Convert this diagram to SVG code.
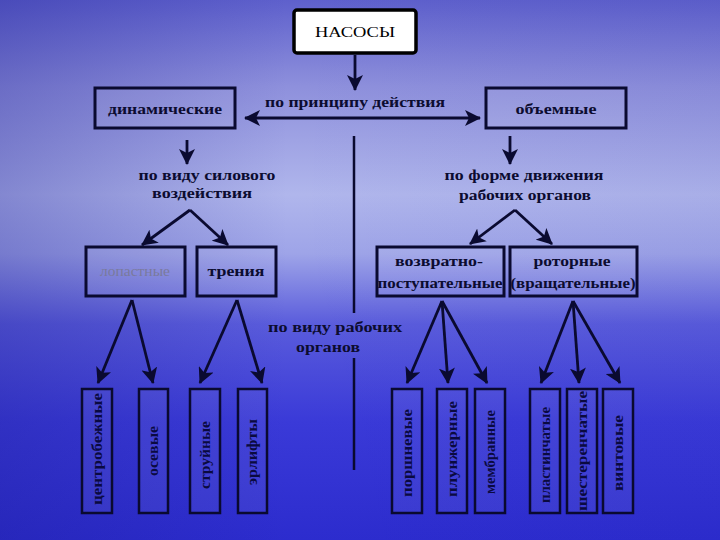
<svg xmlns="http://www.w3.org/2000/svg" width="720" height="540" viewBox="0 0 720 540">
<defs>
<linearGradient id="sky" x1="0" y1="0" x2="0" y2="1">
<stop offset="0" stop-color="#5e60cc"/>
<stop offset="0.16" stop-color="#8e90dc"/>
<stop offset="0.36" stop-color="#b0b6ec"/>
<stop offset="0.47" stop-color="#9ea4e8"/>
<stop offset="0.6" stop-color="#5a5cdc"/>
<stop offset="0.78" stop-color="#3a3ad8"/>
<stop offset="1" stop-color="#2c2cce"/>
</linearGradient>
<linearGradient id="side" x1="0" y1="0" x2="1" y2="0">
<stop offset="0" stop-color="#1a1a90" stop-opacity="0.3"/>
<stop offset="0.4" stop-color="#1a1a90" stop-opacity="0"/>
<stop offset="1" stop-color="#1a1a90" stop-opacity="0.05"/>
</linearGradient>
<marker id="ah" viewBox="0 0 16 16" refX="15" refY="8" markerWidth="16" markerHeight="16" orient="auto-start-reverse" markerUnits="userSpaceOnUse">
<path d="M0,0 L16,8 L0,16 L4,8 z" fill="#0a0a30"/>
</marker>
<style>
.box{fill:#ffffff;fill-opacity:0.08;stroke:#0a0a30;stroke-width:3}
.vbox{fill:#ffffff;fill-opacity:0.06;stroke:#0a0a30;stroke-width:2.5}
.t{font-family:"Liberation Serif","DejaVu Serif",serif;font-size:15px;font-weight:bold;fill:#0c0c30;text-anchor:middle}
.lbl{font-family:"Liberation Serif","DejaVu Serif",serif;font-size:15px;font-weight:bold;fill:#0c0c30;text-anchor:middle}
.v{font-family:"Liberation Serif","DejaVu Serif",serif;font-size:14px;font-weight:bold;fill:#0a0a40;text-anchor:middle}
.c{stroke:#0a0a30;stroke-width:2.8;fill:none;marker-end:url(#ah)}
.ln{stroke:#0a0a30;stroke-width:2.5;fill:none}
</style>
</defs>
<rect x="0" y="0" width="720" height="540" fill="url(#sky)"/>
<rect x="0" y="0" width="720" height="540" fill="url(#side)"/>

<g id="connectors">
<line class="c" x1="355" y1="55" x2="355" y2="90"/>
<line class="c" x1="300" y1="118" x2="245" y2="118"/>
<line class="c" x1="300" y1="118" x2="480" y2="118"/>
<line class="ln" x1="354" y1="136" x2="354" y2="313"/>
<line class="ln" x1="354" y1="358" x2="354" y2="470"/>
<line class="c" x1="187" y1="140" x2="187" y2="164"/>
<line class="c" x1="510" y1="136" x2="510" y2="164"/>
<line class="c" x1="190" y1="210" x2="142" y2="245"/>
<line class="c" x1="190" y1="210" x2="228" y2="245"/>
<line class="c" x1="515" y1="210" x2="470" y2="244"/>
<line class="c" x1="515" y1="210" x2="552" y2="244"/>
<line class="c" x1="132" y1="300" x2="98" y2="383"/>
<line class="c" x1="132" y1="300" x2="153" y2="383"/>
<line class="c" x1="237" y1="300" x2="200" y2="383"/>
<line class="c" x1="237" y1="300" x2="262" y2="383"/>
<line class="c" x1="442" y1="301" x2="407" y2="383"/>
<line class="c" x1="442" y1="301" x2="448" y2="383"/>
<line class="c" x1="442" y1="301" x2="487" y2="383"/>
<line class="c" x1="573" y1="301" x2="541" y2="383"/>
<line class="c" x1="573" y1="301" x2="579" y2="383"/>
<line class="c" x1="573" y1="301" x2="620" y2="383"/>
</g>

<g id="nasosy">
<rect x="294" y="10" width="122" height="43" rx="3" fill="#ffffff" stroke="#000" stroke-width="3.5"/>
<text class="t" x="355" y="37" textLength="80" lengthAdjust="spacingAndGlyphs" style="font-weight:normal;fill:#000">НАСОСЫ</text>
</g>
<g id="label-principle"><text class="lbl" x="355" y="107" textLength="180" lengthAdjust="spacingAndGlyphs">по принципу действия</text></g>
<g id="dinamicheskie">
<rect class="box" x="95" y="88" width="140" height="40"/>
<text class="t" x="165" y="114" textLength="114" lengthAdjust="spacingAndGlyphs">динамические</text>
</g>
<g id="obemnye">
<rect class="box" x="486" y="88" width="140" height="40"/>
<text class="t" x="556" y="114" textLength="81" lengthAdjust="spacingAndGlyphs">объемные</text>
</g>
<g id="label-silovogo">
<text class="lbl" x="207" y="180" textLength="137" lengthAdjust="spacingAndGlyphs">по виду силового</text>
<text class="lbl" x="202" y="198" textLength="100" lengthAdjust="spacingAndGlyphs">воздействия</text>
</g>
<g id="label-formy">
<text class="lbl" x="524" y="180" textLength="159" lengthAdjust="spacingAndGlyphs">по форме движения</text>
<text class="lbl" x="525" y="200" textLength="132" lengthAdjust="spacingAndGlyphs">рабочих органов</text>
</g>
<g id="lopastnye">
<rect class="box" x="86" y="247" width="99" height="49"/>
<text class="t" x="135" y="276" textLength="70" lengthAdjust="spacingAndGlyphs" style="fill:#7a7a9c;font-weight:normal">лопастные</text>
</g>
<g id="treniya">
<rect class="box" x="197" y="247" width="79" height="49"/>
<text class="t" x="236" y="276" textLength="57" lengthAdjust="spacingAndGlyphs">трения</text>
</g>
<g id="vozvratno">
<rect class="box" x="377" y="247" width="127" height="49"/>
<text class="t" x="439" y="266" textLength="88" lengthAdjust="spacingAndGlyphs">возвратно-</text>
<text class="t" x="440" y="288" textLength="125" lengthAdjust="spacingAndGlyphs">поступательные</text>
</g>
<g id="rotornye">
<rect class="box" x="510" y="247" width="127" height="49"/>
<text class="t" x="572" y="266" textLength="77" lengthAdjust="spacingAndGlyphs">роторные</text>
<text class="t" x="573" y="288" textLength="125" lengthAdjust="spacingAndGlyphs">(вращательные)</text>
</g>
<g id="label-organov">
<text class="lbl" x="335" y="332" textLength="134" lengthAdjust="spacingAndGlyphs">по виду рабочих</text>
<text class="lbl" x="328" y="352" textLength="64" lengthAdjust="spacingAndGlyphs">органов</text>
</g>

<g id="centrobezhnye"><rect class="vbox" x="82" y="389" width="30" height="124"/><text class="v" transform="translate(102,449) rotate(-90)" textLength="112" lengthAdjust="spacingAndGlyphs">центробежные</text></g>
<g id="osevye"><rect class="vbox" x="139" y="389" width="29" height="124"/><text class="v" transform="translate(158,451) rotate(-90)" textLength="50" lengthAdjust="spacingAndGlyphs">осевые</text></g>
<g id="struynye"><rect class="vbox" x="190" y="389" width="30" height="124"/><text class="v" transform="translate(210,455) rotate(-90)" textLength="68" lengthAdjust="spacingAndGlyphs">струйные</text></g>
<g id="erlifty"><rect class="vbox" x="238" y="389" width="29" height="124"/><text class="v" transform="translate(257,452) rotate(-90)" textLength="66" lengthAdjust="spacingAndGlyphs">эрлифты</text></g>
<g id="porshnevye"><rect class="vbox" x="392" y="389" width="30" height="124"/><text class="v" transform="translate(412,453) rotate(-90)" textLength="88" lengthAdjust="spacingAndGlyphs">поршневые</text></g>
<g id="plunzhernye"><rect class="vbox" x="437" y="389" width="30" height="124"/><text class="v" transform="translate(457,449) rotate(-90)" textLength="96" lengthAdjust="spacingAndGlyphs">плунжерные</text></g>
<g id="membrannye"><rect class="vbox" x="475" y="389" width="30" height="124"/><text class="v" transform="translate(495,452) rotate(-90)" textLength="84" lengthAdjust="spacingAndGlyphs">мембранные</text></g>
<g id="plastinchatye"><rect class="vbox" x="530" y="389" width="30" height="124"/><text class="v" transform="translate(550,455) rotate(-90)" textLength="96" lengthAdjust="spacingAndGlyphs">пластинчатые</text></g>
<g id="shesterenchatye"><rect class="vbox" x="567" y="389" width="30" height="124"/><text class="v" transform="translate(587,451) rotate(-90)" textLength="120" lengthAdjust="spacingAndGlyphs">шестеренчатые</text></g>
<g id="vintovye"><rect class="vbox" x="603" y="389" width="30" height="124"/><text class="v" transform="translate(623,453) rotate(-90)" textLength="76" lengthAdjust="spacingAndGlyphs">винтовые</text></g>
</svg>
